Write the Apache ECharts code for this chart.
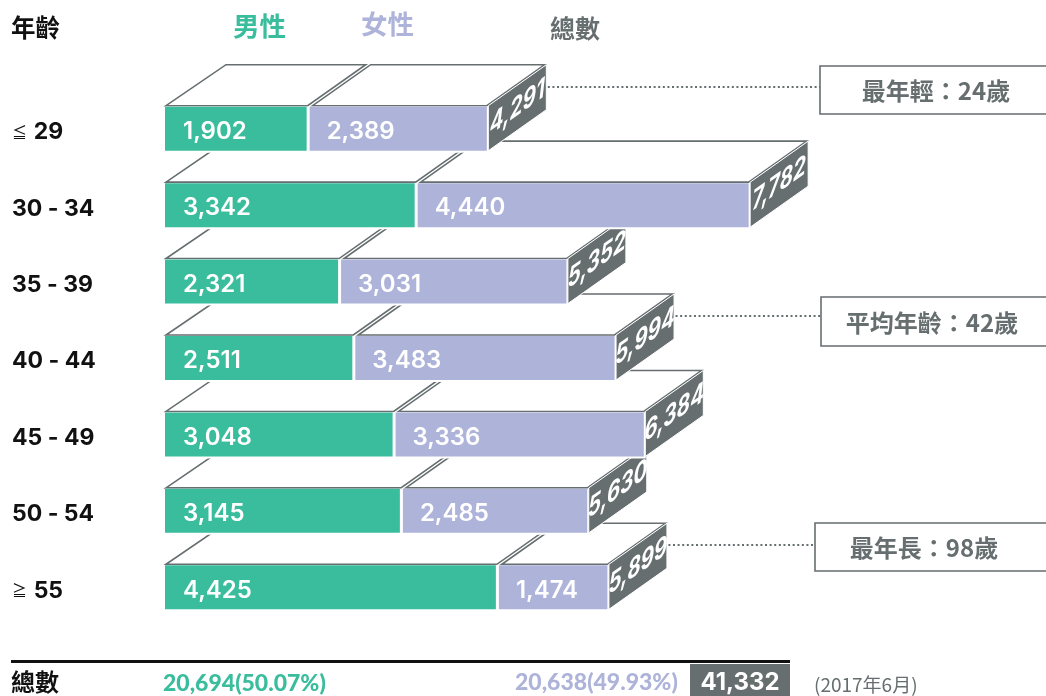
<!DOCTYPE html>
<html>
<head>
<meta charset="utf-8">
<style>html,body{margin:0;padding:0;background:#fff;overflow:hidden}#main{width:1046px;height:696px}</style>
<script src="https://cdn.jsdelivr.net/npm/echarts@6/dist/echarts.min.js"></script>
</head>
<body>
<div id="main"></div>
<script>
const ages = ['≦ 29', '30 - 34', '35 - 39', '40 - 44', '45 - 49', '50 - 54', '≧ 55'];
const male = [1902, 3342, 2321, 2511, 3048, 3145, 4425];
const female = [2389, 4440, 3031, 3483, 3336, 2485, 1474];
const total = [4291, 7782, 5352, 5994, 6384, 5630, 5899];
const noteRows = [0, 3, 6];
const noteLabels = ['最年輕：24歲', '平均年齡：42歲', '最年長：98歲'];
const noteEnds = [820, 821, 815];

const GREEN = '#3abd9c', LAV = '#aeb3d9', DARK = '#666e70';
const CJK = '"Noto Sans CJK TC"';
const NUM = 'Inter';
const barH = 44, dx = 58, dy = 41;

// nested rotate + scale, gives the skew of the side face text
function shear(k) {
    const E = 1, F = 0, G = k / 2, H = k / 2;
    const Q = Math.hypot(E, H), R = Math.hypot(F, G);
    const a1 = Math.atan2(G, F), a2 = Math.atan2(H, E);
    return { sx: Q + R, sy: Q - R, theta: (a2 - a1) / 2, phi: (a2 + a1) / 2 };
}
const sh = shear(-dy / dx);

const fmt = (v) => v.toLocaleString('en-US');

const poly = (pts, fill, stroke, w) => ({
    type: 'polygon',
    shape: { points: pts },
    style: { fill: fill, stroke: stroke, lineWidth: w }
});

function renderRow(params, api) {
    const row = api.value(0);
    const m = api.value(1), f = api.value(2), t = api.value(3);
    const p0 = api.coord([0, row]);
    const xm = api.coord([m, row])[0];
    const xt = api.coord([t, row])[0];
    const cy = p0[1] - 0.5;
    const top = cy - barH / 2, bot = cy + barH / 2;
    const x0 = p0[0];
    const kids = [
        // top faces
        poly([[x0 + 1, top - 1], [xm, top - 1], [xm + dx, top - 1 - dy], [x0 + 3 + dx, top - 1 - dy]], '#fff', DARK, 1.6),
        poly([[xm + 5, top - 1], [xt, top - 1], [xt + dx, top - 1 - dy], [xm + 5 + dx, top - 1 - dy]], '#fff', DARK, 1.6),
        // white halo under the next row up
        { type: 'rect', shape: { x: x0, y: top, width: xt - x0 + 2, height: barH + 2 }, style: { fill: '#fff' } },
        // side face
        poly([[xt + 1.5, top - 1], [xt + 1.5 + dx, top - 1 - dy], [xt + 1.5 + dx, bot - dy], [xt + 1.5, bot]], DARK, '#fff', 1),
        // front faces
        { type: 'rect', shape: { x: x0, y: top, width: xm - x0 - 1, height: barH }, style: { fill: GREEN } },
        { type: 'rect', shape: { x: xm + 2, y: top, width: xt - xm - 2, height: barH }, style: { fill: LAV } },
        { type: 'text', style: { x: x0 + 18, y: cy + 3, text: fmt(m), fill: '#fff', font: '600 24px ' + NUM, textAlign: 'left', textVerticalAlign: 'middle' } },
        { type: 'text', style: { x: xm + 19, y: cy + 3, text: fmt(f), fill: '#fff', font: '600 24px ' + NUM, textAlign: 'left', textVerticalAlign: 'middle' } },
        {
            type: 'group',
            x: xt + 1.5 + dx / 2, y: cy - dy / 2 - 1,
            rotation: -sh.phi, scaleX: sh.sx, scaleY: sh.sy,
            children: [{
                type: 'text',
                rotation: -sh.theta,
                scaleX: 0.76,
                style: { text: fmt(t), fill: '#fff', font: 'italic 700 27px ' + NUM, textAlign: 'center', textVerticalAlign: 'middle' }
            }]
        }
    ];
    const n = noteRows.indexOf(row);
    if (n >= 0) {
        const ly = Math.round(cy - 42);
        kids.push({
            type: 'line',
            shape: { x1: xt + dx + 3, y1: ly, x2: noteEnds[n], y2: ly },
            style: { stroke: DARK, lineWidth: 2, lineDash: [2, 2.6] }
        });
    }
    return { type: 'group', children: kids };
}

// lower rows first, the upper rows sit in front of them
const rows = [];
for (let i = ages.length - 1; i >= 0; i--) {
    rows.push([i, male[i], female[i], total[i]]);
}

const txt = (x, y, text, fill, font, align) => ({
    type: 'text', x: x, y: y,
    style: { text: text, fill: fill, font: font, textAlign: align || 'left', textVerticalAlign: 'middle' }
});

const noteBox = (x, y, h, label, cx) => [
    { type: 'rect', shape: { x: x, y: y, width: 240, height: h }, style: { fill: '#fff', stroke: DARK, lineWidth: 1.6 } },
    txt(cx, y + h / 2 + 1, label, DARK, '600 24px ' + CJK, 'center')
];

const chart = echarts.init(document.getElementById('main'), null, { renderer: 'canvas' });
chart.setOption({
    animation: false,
    backgroundColor: '#fff',
    grid: { left: 165, top: 91, width: 600, height: 535 },
    xAxis: { type: 'value', min: 0, max: 8000, show: false },
    yAxis: {
        type: 'category',
        inverse: true,
        data: ages,
        axisLine: { show: false },
        axisTick: { show: false },
        splitLine: { show: false },
        axisLabel: {
            margin: 153,
            align: 'left',
            padding: [6, 0, 0, 0],
            formatter: (v) => {
                if (v[0] === '≦' || v[0] === '≧') return '{s|' + v[0] + '}  {b|' + v.slice(2) + '}';
                return '{b|' + v + '}';
            },
            rich: {
                s: { fontFamily: CJK, fontSize: 15, color: '#111' },
                b: { fontFamily: NUM, fontSize: 23, fontWeight: 700, color: '#111' }
            }
        }
    },
    series: [{
        type: 'custom',
        coordinateSystem: 'cartesian2d',
        clip: false,
        encode: { x: [1, 2, 3], y: 0 },
        data: rows,
        renderItem: renderRow
    }],
    graphic: [
        txt(11, 28, '年齡', '#111', '700 24.5px ' + CJK),
        txt(233, 26, '男性', GREEN, '700 26.5px ' + CJK),
        txt(361, 24, '女性', LAV, '700 26.5px ' + CJK),
        txt(550, 28, '總數', DARK, '700 25px ' + CJK),
        ...noteBox(noteEnds[0], 66, 48, noteLabels[0], 936),
        ...noteBox(noteEnds[1], 297, 49, noteLabels[1], 932),
        ...noteBox(noteEnds[2], 523, 48, noteLabels[2], 924),
        { type: 'rect', shape: { x: 11, y: 660, width: 779, height: 3 }, style: { fill: '#111' } },
        { type: 'rect', shape: { x: 690, y: 664, width: 100, height: 32 }, style: { fill: DARK } },
        txt(11, 682, '總數', '#111', '700 24px ' + CJK),
        txt(163, 684, '20,694(50.07%)', GREEN, '900 23px Lato'),
        txt(515, 683, '20,638(49.93%)', LAV, '900 23px Lato'),
        txt(740, 683, '41,332', '#fff', '700 24px ' + NUM, 'center'),
        txt(814, 685, '(2017年6月)', DARK, '400 19px ' + CJK)
    ]
});
</script>
</body>
</html>
